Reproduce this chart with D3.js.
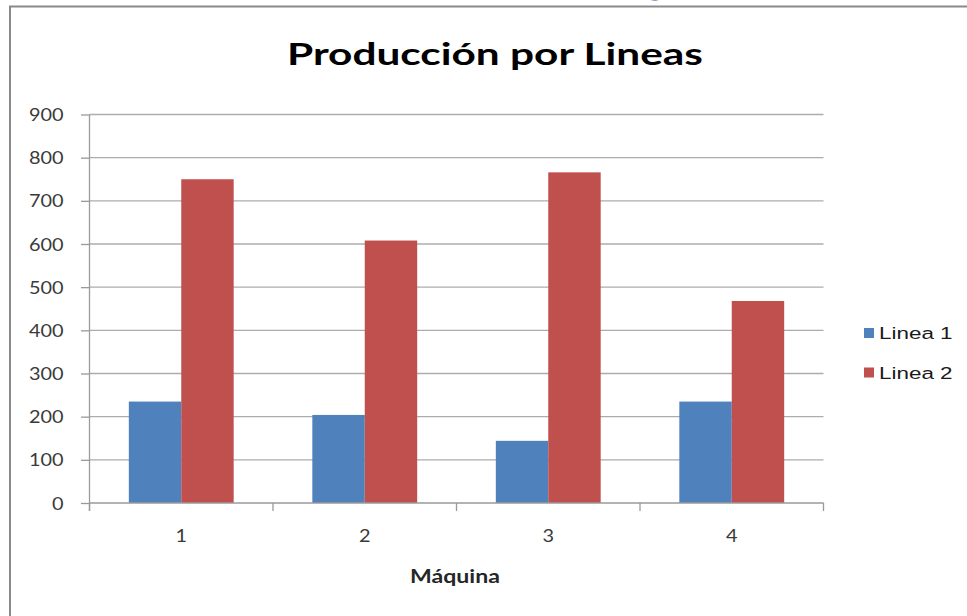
<!DOCTYPE html>
<html>
<head>
<meta charset="utf-8">
<script src="https://cdn.jsdelivr.net/npm/d3@7"></script>
<style>
  html, body { margin: 0; padding: 0; background: #fff; }
  svg { display: block; }
</style>
</head>
<body>
<script>
// Production per machine, two lines
const categories = ["1", "2", "3", "4"];
const seriesNames = ["Linea 1", "Linea 2"];
const linea1 = [235, 204, 144, 235];
const linea2 = [750, 608, 766, 468];
const yTicks = [0, 100, 200, 300, 400, 500, 600, 700, 800, 900];
const titleText = "Producción por Lineas";
const xTitle = "Máquina";

const W = 967, H = 616;
const colors = { "Linea 1": "#4F81BD", "Linea 2": "#C0504D" };

const svg = d3.select("body").append("svg")
  .attr("width", W).attr("height", H);

// Heading fragment above the chart frame
svg.append("text")
  .attr("x", 644).attr("y", -7.5)
  .attr("font-family", "Lato").attr("font-weight", 700).attr("font-size", 40)
  .attr("fill", "#1F5AA6")
  .text("g");

// Chart frame
svg.append("path")
  .attr("d", `M10,${H} V6.5 H${W}`)
  .attr("fill", "none").attr("stroke", "#8a8a8a").attr("stroke-width", 2);

const plot = { left: 89.5, right: 823.5, top: 114.5, bottom: 503 };

const x = d3.scaleBand().domain(categories).range([plot.left, plot.right]).padding(0);
const xs = d3.scaleBand().domain(seriesNames).range([0, x.bandwidth()])
  .paddingInner(0).paddingOuter(0.75);
const y = d3.scaleLinear().domain([0, 900]).range([plot.bottom, plot.top]);

// Horizontal gridlines
svg.append("g").selectAll("line")
  .data(yTicks.filter(d => d > 0))
  .join("line")
  .attr("x1", plot.left).attr("x2", plot.right)
  .attr("y1", d => y(d)).attr("y2", d => y(d))
  .attr("stroke", "#acacac").attr("stroke-width", 1.4);

// Bars
const rows = categories.map((c, i) => ({ cat: c, values: [
  { key: "Linea 1", value: linea1[i] },
  { key: "Linea 2", value: linea2[i] }
]}));

svg.append("g").selectAll("g")
  .data(rows).join("g")
  .attr("transform", d => `translate(${x(d.cat)},0)`)
  .selectAll("rect")
  .data(d => d.values).join("rect")
  .attr("x", d => xs(d.key))
  .attr("width", xs.bandwidth())
  .attr("y", d => y(d.value))
  .attr("height", d => y(0) - y(d.value))
  .attr("fill", d => colors[d.key]);

// Stretch helper: widen a text element horizontally around its anchor
function widen(sel, sx) {
  sel.each(function () {
    const t = d3.select(this);
    const ax = +t.attr("x") || 0, ay = +t.attr("y") || 0;
    t.attr("x", 0).attr("y", 0)
     .attr("transform", `translate(${ax},${ay}) scale(${sx},1)`);
  });
}

// Y axis
const yAxis = svg.append("g")
  .attr("transform", `translate(${plot.left},0)`)
  .call(d3.axisLeft(y).tickValues(yTicks).tickSize(8.5).tickPadding(17.5).tickFormat(d3.format("d")));
yAxis.select(".domain").attr("stroke", "#9a9a9a").attr("stroke-width", 1.3)
  .attr("d", `M0,${plot.top}V${plot.bottom + 8}`);
yAxis.selectAll(".tick line").attr("stroke", "#9a9a9a").attr("stroke-width", 1.3);
yAxis.selectAll("text")
  .attr("font-family", "Lato").attr("font-size", 17).attr("fill", "#3a3a3a")
  .attr("dy", "0.36em");
widen(yAxis.selectAll("text"), 1.17);

// X axis with ticks between categories
const xAxis = svg.append("g").attr("transform", `translate(0,${plot.bottom})`);
xAxis.append("line")
  .attr("x1", plot.left).attr("x2", plot.right)
  .attr("stroke", "#9a9a9a").attr("stroke-width", 1.3);
const bounds = categories.map(c => x(c)).concat([plot.right]);
xAxis.selectAll("line.sep").data(bounds).join("line")
  .attr("class", "sep")
  .attr("x1", d => d).attr("x2", d => d)
  .attr("y1", 0).attr("y2", 8)
  .attr("stroke", "#9a9a9a").attr("stroke-width", 1.3);
const xLabels = xAxis.selectAll("text").data(categories).join("text")
  .attr("x", d => x(d) + x.bandwidth() / 2)
  .attr("y", 39)
  .attr("text-anchor", "middle")
  .attr("font-family", "Lato").attr("font-size", 17).attr("fill", "#3a3a3a")
  .text(d => d);
widen(xLabels, 1.17);

// Title
const title = svg.append("text")
  .attr("x", 495).attr("y", 65)
  .attr("text-anchor", "middle")
  .attr("font-family", "Lato").attr("font-weight", 700).attr("font-size", 31)
  .attr("fill", "#000")
  .text(titleText);
widen(title, 416 / title.node().getComputedTextLength());

// X axis title
const xt = svg.append("text")
  .attr("x", 455).attr("y", 583)
  .attr("text-anchor", "middle")
  .attr("font-family", "Lato").attr("font-weight", 700).attr("font-size", 19)
  .attr("fill", "#262626")
  .text(xTitle);
widen(xt, 90 / xt.node().getComputedTextLength());

// Legend
const legend = svg.append("g").selectAll("g")
  .data(seriesNames).join("g")
  .attr("transform", (d, i) => `translate(864,${333 + i * 39.5})`);
legend.append("rect")
  .attr("x", 0).attr("y", -5).attr("width", 10).attr("height", 10)
  .attr("fill", d => colors[d]);
const legText = legend.append("text")
  .attr("x", 15).attr("y", 6)
  .attr("font-family", "Liberation Sans, Arial, sans-serif").attr("font-size", 16.5)
  .attr("fill", "#1a1a1a")
  .text(d => d);
widen(legText, 1.36);
</script>
</body>
</html>
